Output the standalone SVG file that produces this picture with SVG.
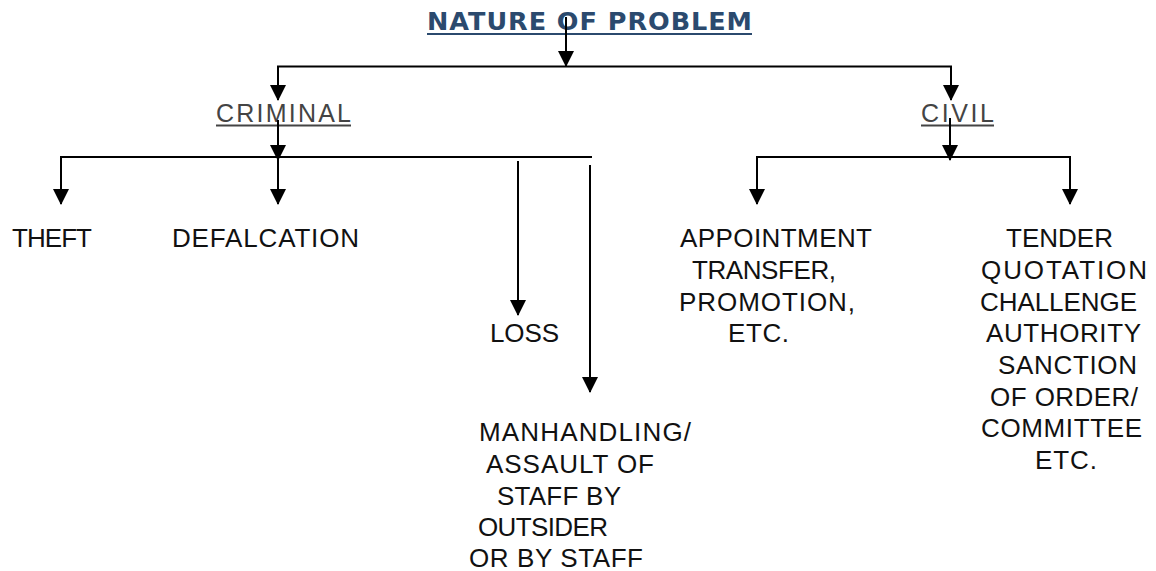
<svg xmlns="http://www.w3.org/2000/svg" width="1156" height="571" viewBox="0 0 1156 571">
<defs>
<marker id="ah" markerUnits="userSpaceOnUse" markerWidth="16" markerHeight="16" refX="15" refY="8" orient="auto" viewBox="0 0 16 16">
<path d="M0,0 L16,8 L0,16 z" fill="#000"/>
</marker>
<style>
.t{font-family:"Liberation Sans",Arial,sans-serif;font-size:26px;fill:#111}
.h{font-family:"Liberation Sans",Arial,sans-serif;font-size:25px;fill:#444}
.ttl{font-family:"DejaVu Sans",Verdana,sans-serif;font-size:25.5px;font-weight:bold;fill:#2b4a6e}
.c{stroke:#000;stroke-width:2;fill:none}
.a{stroke:#000;stroke-width:2;fill:none;marker-end:url(#ah)}
</style>
</defs>
<rect width="1156" height="571" fill="#fff"/>
<g id="title">
<text class="ttl" x="427" y="30" textLength="325" lengthAdjust="spacing">NATURE OF PROBLEM</text>
<line x1="427" y1="34" x2="752" y2="34" stroke="#2b4a6e" stroke-width="2"/>
</g>
<g id="criminal">
<text class="h" x="216" y="122" textLength="135" lengthAdjust="spacing">CRIMINAL</text>
<line x1="216" y1="125.5" x2="351" y2="125.5" stroke="#444" stroke-width="2"/>
</g>
<g id="civil">
<text class="h" x="921" y="122" textLength="73" lengthAdjust="spacing">CIVIL</text>
<line x1="921" y1="125.5" x2="994" y2="125.5" stroke="#444" stroke-width="2"/>
</g>
<g id="theft"><text class="t" x="12" y="247" textLength="80" lengthAdjust="spacing">THEFT</text></g>
<g id="defalcation"><text class="t" x="172" y="247" textLength="187" lengthAdjust="spacing">DEFALCATION</text></g>
<g id="loss"><text class="t" x="490" y="342" textLength="69" lengthAdjust="spacing">LOSS</text></g>
<g id="manhandling">
<text class="t" x="479" y="441" textLength="212" lengthAdjust="spacing">MANHANDLING/</text>
<text class="t" x="486" y="473" textLength="168" lengthAdjust="spacing">ASSAULT OF</text>
<text class="t" x="497" y="505" textLength="124" lengthAdjust="spacing">STAFF BY</text>
<text class="t" x="478" y="536" textLength="130" lengthAdjust="spacing">OUTSIDER</text>
<text class="t" x="469" y="567" textLength="174" lengthAdjust="spacing">OR BY STAFF</text>
</g>
<g id="appointment">
<text class="t" x="680" y="247" textLength="192" lengthAdjust="spacing">APPOINTMENT</text>
<text class="t" x="692" y="279" textLength="144" lengthAdjust="spacing">TRANSFER,</text>
<text class="t" x="679" y="311" textLength="176" lengthAdjust="spacing">PROMOTION,</text>
<text class="t" x="728" y="342" textLength="61" lengthAdjust="spacing">ETC.</text>
</g>
<g id="tender">
<text class="t" x="1006" y="247" textLength="107" lengthAdjust="spacing">TENDER</text>
<text class="t" x="981" y="279" textLength="166" lengthAdjust="spacing">QUOTATION</text>
<text class="t" x="980" y="311" textLength="157" lengthAdjust="spacing">CHALLENGE</text>
<text class="t" x="986" y="342" textLength="155" lengthAdjust="spacing">AUTHORITY</text>
<text class="t" x="998" y="374" textLength="139" lengthAdjust="spacing">SANCTION</text>
<text class="t" x="990" y="406" textLength="148" lengthAdjust="spacing">OF ORDER/</text>
<text class="t" x="981" y="437" textLength="161" lengthAdjust="spacing">COMMITTEE</text>
<text class="t" x="1035" y="469" textLength="62" lengthAdjust="spacing">ETC.</text>
</g>
<g id="connectors">
<line class="a" x1="566" y1="17" x2="566" y2="66"/>
<polyline class="c" points="278,100 278,66.5 951,66.5 951,100"/>
<line class="a" x1="278" y1="80" x2="278" y2="100"/>
<line class="a" x1="951" y1="80" x2="951" y2="100"/>
<line class="a" x1="278" y1="120" x2="278" y2="160"/>
<polyline class="c" points="61,204 61,157 592,157"/>
<line class="a" x1="61" y1="180" x2="61" y2="204"/>
<line class="a" x1="278" y1="157" x2="278" y2="204"/>
<line class="a" x1="518" y1="161" x2="518" y2="315"/>
<line class="a" x1="590" y1="165" x2="590" y2="392"/>
<line class="a" x1="950" y1="118" x2="950" y2="160"/>
<polyline class="c" points="757,204 757,157 1070,157 1070,204"/>
<line class="a" x1="757" y1="180" x2="757" y2="204"/>
<line class="a" x1="1070" y1="180" x2="1070" y2="204"/>
</g>
</svg>
